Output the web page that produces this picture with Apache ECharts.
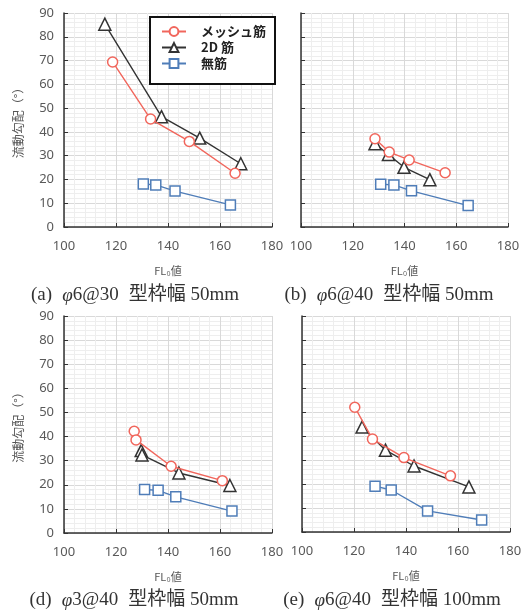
<!DOCTYPE html>
<html>
<head>
<meta charset="utf-8">
<script src="https://cdn.jsdelivr.net/npm/echarts@6/dist/echarts.min.js"></script>
<style>
  html, body { margin: 0; padding: 0; background: #fff; }
  #chart { width: 532px; height: 611px; }
</style>
</head>
<body>
<div id="chart"></div>
<script>
  // data: [FL0, angle]
  var seriesNames = ['メッシュ筋', '2D 筋', '無筋'];
  var capTags = ['(a)', '(b)', '(d)', '(e)'];
  var capBars = ['6@30', '6@40', '3@40', '6@40'];
  var capWidths = ['50mm', '50mm', '50mm', '100mm'];

  var meshA = [[118.7, 69.4], [133.3, 45.4], [148.2, 36], [165.8, 22.6]];
  var twoDA = [[115.7, 85.3], [137.5, 46.4], [152.2, 37.4], [168, 26.6]];
  var noneA = [[130.5, 18.1], [135.3, 17.7], [142.7, 15.1], [164, 9.3]];

  var meshB = [[128.6, 37.1], [134.1, 31.5], [141.8, 28.2], [155.7, 22.8]];
  var twoDB = [[128.6, 35], [133.8, 30.5], [139.8, 25.1], [149.8, 19.9]];
  var noneB = [[130.8, 18], [135.9, 17.7], [142.7, 15.2], [164.6, 9]];

  var meshD = [[127, 42.2], [127.7, 38.6], [141.2, 27.7], [160.9, 21.7]];
  var twoDD = [[129.7, 34.2], [130, 32.4], [144.2, 24.9], [163.8, 19.7]];
  var noneD = [[131, 18], [136.2, 17.7], [143, 15], [164.6, 9.1]];

  var meshE = [[120.3, 52], [127.1, 38.7], [139.2, 31], [157.1, 23.4]];
  var twoDE = [[123.1, 43.7], [132.1, 34.1], [143.1, 27.5], [164.2, 18.8]];
  var noneE = [[128.1, 19.1], [134.3, 17.5], [148.3, 8.8], [169.1, 5]];

  var xTicks = { min: 100, max: 180, interval: 20 };
  var yTicks = { min: 0, max: 90, interval: 10 };

  var panels = [
    { data: [meshA, twoDA, noneA], grid: { left: 64, top: 13, width: 208, height: 214 }, yLabels: true, cap: [130, 281] },
    { data: [meshB, twoDB, noneB], grid: { left: 301, top: 13, width: 207, height: 214 }, yLabels: false, cap: [384, 281] },
    { data: [meshD, twoDD, noneD], grid: { left: 64, top: 316, width: 208, height: 217 }, yLabels: true, cap: [129, 586] },
    { data: [meshE, twoDE, noneE], grid: { left: 302, top: 316, width: 208, height: 216 }, yLabels: false, cap: [387, 586] }
  ];

  var colors = ['#f1665c', '#333333', '#4f7db8'];
  var symbols = ['circle', 'triangle', 'rect'];
  var sizes = [10, 12, 10];

  var labelFont = '"Noto Sans", "Noto Sans CJK JP", sans-serif';
  var cjkFont = '"Noto Sans CJK JP", sans-serif';
  var serifFont = '"Liberation Serif", "Noto Sans CJK JP", serif';

  var grids = [], xAxes = [], yAxes = [], series = [], titles = [];

  panels.forEach(function (p, i) {
    grids.push(p.grid);
    xAxes.push({
      type: 'value', gridIndex: i,
      min: xTicks.min, max: xTicks.max, interval: xTicks.interval,
      name: 'FL\u2080値', nameLocation: 'middle', nameGap: 38,
      nameTextStyle: { fontFamily: cjkFont, fontSize: 11, color: '#555' },
      axisLine: { show: true, onZero: false, lineStyle: { color: '#333', width: 1.5 } },
      axisTick: { show: true, inside: true, length: 4, lineStyle: { color: '#333' } },
      axisLabel: { fontFamily: labelFont, fontSize: 13, color: '#595959', margin: 13 },
      splitLine: { show: true, lineStyle: { color: '#d9d9d9', width: 1 } },
      minorTick: { show: false, splitNumber: 5 },
      minorSplitLine: { show: true, lineStyle: { color: '#eeeeee', width: 1 } }
    });
    yAxes.push({
      type: 'value', gridIndex: i,
      min: yTicks.min, max: yTicks.max, interval: yTicks.interval,
      name: p.yLabels ? '流動勾配（°）' : '', nameLocation: 'middle', nameGap: 40,
      nameTextStyle: { fontFamily: cjkFont, fontSize: 12, color: '#555' },
      axisLine: { show: true, onZero: false, lineStyle: { color: '#333', width: 1.5 } },
      axisTick: { show: true, inside: true, length: 4, lineStyle: { color: '#333' } },
      axisLabel: { show: p.yLabels, fontFamily: labelFont, fontSize: 13, color: '#595959', margin: 10 },
      splitLine: { show: true, lineStyle: { color: '#d9d9d9', width: 1 } },
      minorTick: { show: false, splitNumber: 5 },
      minorSplitLine: { show: true, lineStyle: { color: '#eeeeee', width: 1 } }
    });
    p.data.forEach(function (d, k) {
      series.push({
        name: seriesNames[k], type: 'line',
        xAxisIndex: i, yAxisIndex: i,
        data: d,
        symbol: symbols[k], symbolSize: sizes[k],
        lineStyle: { color: colors[k], width: 1.4 },
        itemStyle: { color: '#fff', borderColor: colors[k], borderWidth: 1.5 },
        z: 3 - k
      });
    });
    titles.push({
      text: '{t|' + capTags[i] + '}  {f|\u03c6}{t|' + capBars[i] + '}  {t|型枠幅 ' + capWidths[i] + '}',
      left: p.cap[0], top: p.cap[1], textAlign: 'center',
      textStyle: {
        fontWeight: 'normal',
        rich: {
          t: { fontFamily: serifFont, fontSize: 19, fontWeight: 'normal', color: '#333' },
          f: { fontFamily: serifFont, fontSize: 19, fontWeight: 'normal', fontStyle: 'italic', color: '#333' }
        }
      }
    });
  });

  var chart = echarts.init(document.getElementById('chart'), null, { renderer: 'canvas' });
  chart.setOption({
    animation: false,
    backgroundColor: '#fff',
    title: titles,
    legend: {
      data: seriesNames,
      orient: 'vertical',
      left: 150, top: 17,
      padding: [8, 9, 14, 11],
      itemGap: 3,
      itemWidth: 24, itemHeight: 11,
      backgroundColor: '#fff',
      borderColor: '#111', borderWidth: 2,
      textStyle: { fontFamily: cjkFont, fontSize: 13, color: '#222', fontWeight: 'bold', padding: [0, 0, 0, 10] }
    },
    grid: grids,
    xAxis: xAxes,
    yAxis: yAxes,
    series: series
  });
</script>
</body>
</html>
